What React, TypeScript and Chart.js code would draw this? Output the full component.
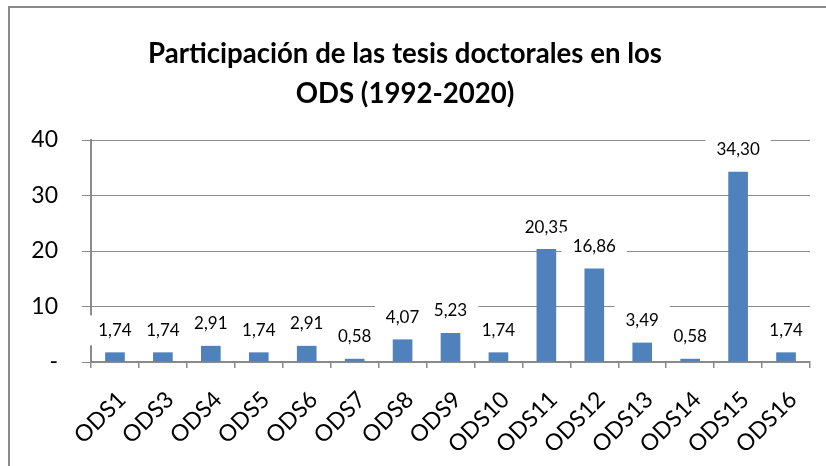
import React, { useEffect, useRef } from "react";
import { Chart, registerables } from "chart.js";

Chart.register(...registerables);

const TITLE_LINES = ["Participación de las tesis doctorales en los", "ODS (1992-2020)"];
const CATEGORIES = ["ODS1", "ODS3", "ODS4", "ODS5", "ODS6", "ODS7", "ODS8", "ODS9", "ODS10", "ODS11", "ODS12", "ODS13", "ODS14", "ODS15", "ODS16"];
const VALUES = [1.74, 1.74, 2.91, 1.74, 2.91, 0.58, 4.07, 5.23, 1.74, 20.35, 16.86, 3.49, 0.58, 34.3, 1.74];
const Y_TICKS = [0, 10, 20, 30, 40];

const FONT = "Lato, 'Liberation Sans', sans-serif";
const GRID = "#8a8a8a";
const BAR = "#4F81BD";

const fmt = (v: number) => v.toFixed(2).replace(".", ",");

const titlePlugin = {
  id: "customTitle",
  afterDraw(chart: any) {
    const ctx = chart.ctx;
    ctx.save();
    ctx.fillStyle = "#000";
    ctx.font = `bold 27.6px ${FONT}`;
    ctx.textAlign = "center";
    ctx.textBaseline = "middle";
    ctx.fillText(TITLE_LINES[0], 405, 54);
    ctx.fillText(TITLE_LINES[1], 405, 94);
    ctx.restore();
  },
};

const labelPlugin = {
  id: "barLabels",
  afterDatasetsDraw(chart: any) {
    const ctx = chart.ctx;
    const meta = chart.getDatasetMeta(0);
    ctx.save();
    ctx.font = `17px ${FONT}`;
    ctx.textAlign = "center";
    ctx.textBaseline = "middle";
    meta.data.forEach((el: any, i: number) => {
      const txt = fmt(VALUES[i]);
      const cx = el.x;
      const cy = el.y - 22;
      const w = ctx.measureText(txt).width + 22;
      const h = 30;
      ctx.fillStyle = "#fff";
      ctx.fillRect(cx - w / 2, cy - h / 2, w, h);
      ctx.fillStyle = "#000";
      ctx.fillText(txt, cx, cy);
    });
    ctx.restore();
  },
};

export default function App() {
  const ref = useRef<HTMLCanvasElement | null>(null);

  useEffect(() => {
    if (!ref.current) return;
    const chart = new Chart(ref.current, {
      type: "bar",
      data: {
        labels: CATEGORIES,
        datasets: [
          {
            data: VALUES,
            backgroundColor: BAR,
            borderWidth: 0,
            barPercentage: 0.41,
            categoryPercentage: 1,
          },
        ],
      },
      options: {
        responsive: false,
        animation: false,
        devicePixelRatio: 1,
        layout: { padding: { top: 140, left: 0, right: 16, bottom: 0 } },
        plugins: {
          legend: { display: false },
          title: { display: false },
          tooltip: { enabled: false },
        },
        scales: {
          x: {
            grid: {
              offset: true,
              drawOnChartArea: false,
              drawTicks: true,
              tickLength: 6,
              color: GRID,
              lineWidth: 1.5,
            },
            border: { color: GRID, width: 2 },
            ticks: {
              color: "#000",
              font: { family: FONT, size: 23 },
              minRotation: 45,
              maxRotation: 45,
              autoSkip: false,
              padding: 18,
              labelOffset: 7,
            },
            afterFit: (s: any) => {
              s.height = 104;
            },
          },
          y: {
            min: 0,
            max: 40,
            afterBuildTicks: (s: any) => {
              s.ticks = Y_TICKS.map((v) => ({ value: v }));
            },
            grid: {
              color: GRID,
              lineWidth: 1,
              drawTicks: true,
              tickLength: 9,
            },
            border: { color: GRID, width: 2 },
            ticks: {
              color: "#000",
              font: { family: FONT, size: 23 },
              padding: 24,
              callback: (v: any) => (Number(v) === 0 ? "-" : String(v)),
            },
            afterFit: (s: any) => {
              s.width = 91;
            },
          },
        },
      },
      plugins: [labelPlugin, titlePlugin],
    });
    return () => chart.destroy();
  }, []);

  return (
    <div
      style={{
        position: "fixed",
        left: 0,
        top: 0,
        width: 826,
        height: 466,
        overflow: "hidden",
        background: "#fff",
      }}
    >
      <div
        style={{
          position: "absolute",
          left: 8,
          top: 6,
          width: 840,
          height: 480,
          border: "2px solid #8a8a8a",
        }}
      />
      <canvas
        ref={ref}
        width={826}
        height={466}
        style={{ position: "absolute", left: 0, top: 0, width: 826, height: 466 }}
      />
    </div>
  );
}
